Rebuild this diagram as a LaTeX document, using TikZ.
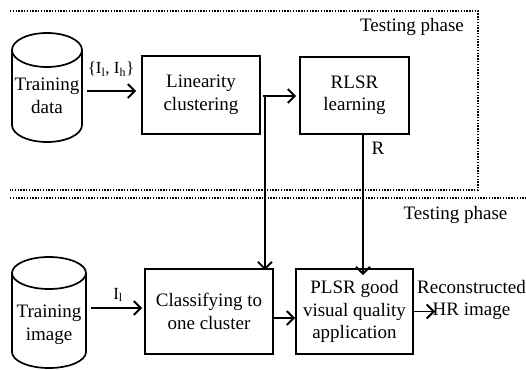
\documentclass[tikz,border=0pt]{standalone}
\usepackage{fontspec}
\setmainfont{Liberation Serif}
\newfontfamily\tnr{Liberation Serif}
\usetikzlibrary{arrows.meta,calc}
\begin{document}
\begin{tikzpicture}[x=1pt,y=-1pt,
  box/.style={draw, line width=1.8pt, align=center, inner sep=0pt},
  arr/.style={line width=1.8pt, -{Straight Barb[length=7pt,width=14pt,line width=1.9pt]}},
  dots/.style={line width=1.7pt, dash pattern=on 1.4pt off 1.4pt},
  cyl/.style={line width=1.7pt},
  txt/.style={font=\tnr\fontsize{19}{22.5}\selectfont, inner sep=0pt},
  sml/.style={font=\tnr\fontsize{17}{20}\selectfont, inner sep=0pt}]
\useasboundingbox (0,0) rectangle (526,369);
% frames
\coordinate (f1) at (10,11);
\coordinate (f2) at (478,11);
\coordinate (f3) at (478,190);
\coordinate (f4) at (10,190);
\coordinate (g1) at (10,198);
\coordinate (g2) at (526,198);
\draw[dots] (f1) -- (f2) -- (f3) -- (f4);
\draw[dots] (g1) -- (g2);
\node[txt] (tp1) at (412,27) {Testing phase};
\node[txt] (tp2) at (455.5,215) {Testing phase};
% cylinders
\draw[cyl] (12,50) -- (12,125) arc[start angle=180,end angle=360,x radius=35pt,y radius=17pt] -- (82,50);
\draw[cyl] (47,50) ellipse [x radius=35pt, y radius=17pt];
\node[txt, align=center, minimum width=70pt] (td) at (47,96) {Training\\data};
\draw[cyl] (12,273) -- (12,352) arc[start angle=180,end angle=360,x radius=37pt,y radius=16pt] -- (86,273);
\draw[cyl] (49,273) ellipse [x radius=37pt, y radius=16pt];
\node[txt, align=center, minimum width=74pt] (ti) at (49,325) {Training\\image};
% boxes
\node[box,txt,minimum width=118pt,minimum height=78pt] (lin) at (201,95) {Linearity\\clustering};
\node[box,txt,minimum width=109pt,minimum height=77pt] (rlsr) at (354.5,95.5) {RLSR\\learning};
\node[box,txt,minimum width=128pt,minimum height=85pt] (cls) at (209,311.5) {Classifying to\\one cluster};
\node[box,txt,minimum width=117pt,minimum height=85pt] (plsr) at (354.5,311.5) {PLSR good\\visual quality\\application};
\node[txt,align=center] (out) at (471.5,300) {Reconstructed\\HR image};
\coordinate (hr) at (435,311.5);
% connectors
\draw[arr] ($(td.east)+(5,-5)$) -- ($(lin.west)+(-5,-4)$);
\node[sml] (l1) at (111,69) {\{I\textsubscript{l}, I\textsubscript{h}\}};
\draw[arr] ($(ti.east)+(5,-17)$) -- ($(cls.west)+(-2,-3.5)$);
\node[sml] (l2) at (118,295) {I\textsubscript{l}};
\coordinate (j) at ($(lin.east)+(4,1)$);
\draw[arr] ([xshift=-2pt]j) -- ([xshift=-3pt]j -| rlsr.west);
\draw[arr] (j) -- ([yshift=-2pt]j |- cls.north);
\draw[arr] ([xshift=8.5pt]rlsr.south) -- ([xshift=8.5pt,yshift=-7pt]plsr.north);
\node[txt] (rl) at (378,148) {R};
\draw[arr] ([yshift=-6.5pt]cls.east) -- ([yshift=-6.5pt]plsr.west);
\draw[arr] (plsr.east) -- (hr);
\end{tikzpicture}
\end{document}
